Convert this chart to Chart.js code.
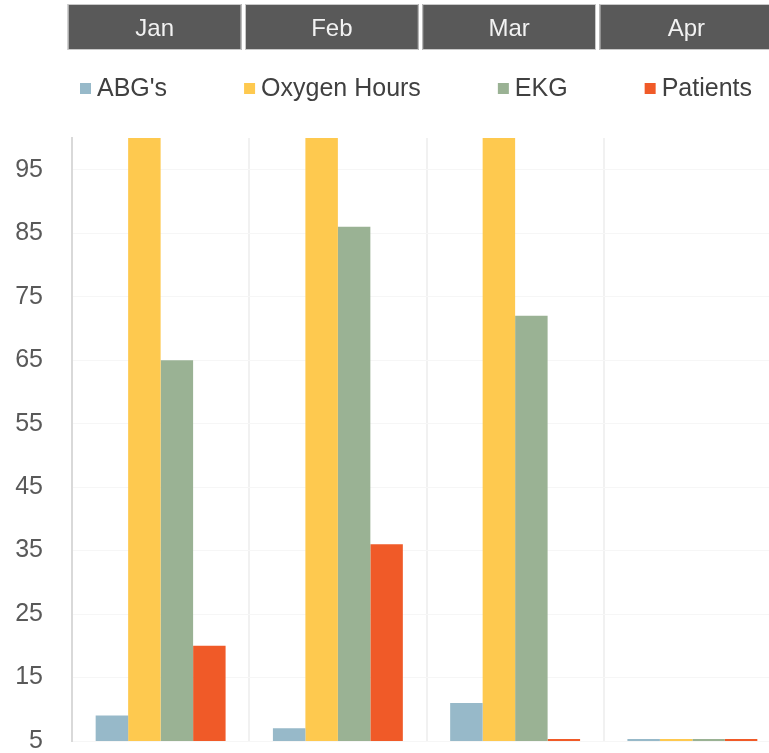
<!DOCTYPE html>
<html><head><meta charset="utf-8">
<script src="https://cdn.jsdelivr.net/npm/chart.js@4.4.1/dist/chart.umd.min.js"></script>
<style>html,body{margin:0;padding:0;overflow:hidden;background:#fff}canvas{display:block}</style>
</head><body>
<canvas id="c" width="781" height="753"></canvas>
<script>
// ---- data ----
const months = ['Jan', 'Feb', 'Mar', 'Apr'];
const seriesNames = ["ABG's", 'Oxygen Hours', 'EKG', 'Patients'];
const abgValues = [9, 7, 11, 0];
const oxygenHoursValues = [180, 165, 172, 0]; // tops run off the chart above 100 (estimates)
const ekgValues = [65, 86, 72, 0];
const patientValues = [20, 36, 0, 0];
const yTickValues = [5, 15, 25, 35, 45, 55, 65, 75, 85, 95];
const yMin = 5, yMax = 100;
const seriesColors = ['#97B9C9', '#FEC94F', '#9AB294', '#F05A28'];

const FONT = '"Liberation Sans", Arial, sans-serif';

const overlayPlugin = {
  id: 'overlay',
  afterDraw(chart) {
    const ctx = chart.ctx;
    const xs = chart.scales.x;
    const n = chart.data.labels.length;
    const catW = xs.width / n;
    ctx.save();
    // month header boxes
    chart.data.labels.forEach((lab, i) => {
      const cx = xs.getPixelForValue(i) - 6;
      const w = catW - 3.5;
      const left = cx - w / 2;
      ctx.fillStyle = '#595959';
      ctx.fillRect(left, 4, w, 46);
      ctx.strokeStyle = '#c9c9c9';
      ctx.lineWidth = 1;
      ctx.strokeRect(left + 0.5, 4.5, w - 1, 45);
      ctx.fillStyle = '#f2f2f2';
      ctx.font = '24px ' + FONT;
      ctx.textAlign = 'center';
      ctx.textBaseline = 'middle';
      ctx.fillText(lab, cx, 29);
    });
    // legend
    ctx.font = '25px ' + FONT;
    ctx.textAlign = 'left';
    ctx.textBaseline = 'middle';
    let x = chart.chartArea.left + 8;
    chart.data.datasets.forEach(ds => {
      ctx.fillStyle = ds.backgroundColor;
      ctx.fillRect(x, 83, 11, 11);
      ctx.fillStyle = '#404040';
      ctx.fillText(ds.label, x + 17, 89);
      x += 17 + ctx.measureText(ds.label).width + 77;
    });
    ctx.restore();
  }
};

const valueSets = [abgValues, oxygenHoursValues, ekgValues, patientValues];

new Chart(document.getElementById('c'), {
  type: 'bar',
  data: {
    labels: months,
    datasets: seriesNames.map((name, i) => ({
      label: name,
      data: valueSets[i],
      backgroundColor: seriesColors[i],
      borderWidth: 0,
      barPercentage: 1,
      categoryPercentage: 0.733,
      minBarLength: 2,
      clip: 0
    }))
  },
  options: {
    responsive: false,
    animation: false,
    devicePixelRatio: 1,
    layout: { padding: { top: 138, bottom: 12, left: 15, right: 0 } },
    plugins: { legend: { display: false }, tooltip: { enabled: false }, title: { display: false } },
    scales: {
      x: {
        display: true,
        grid: { color: '#f1f1f1', lineWidth: 2, drawTicks: false, offset: true },
        border: { display: false },
        ticks: { display: false },
        afterFit(s) { s.height = 0; s.paddingLeft = 0; s.paddingRight = 0; }
      },
      y: {
        min: yMin,
        max: yMax,
        afterBuildTicks(s) { s.ticks = yTickValues.map(v => ({ value: v })); },
        grid: { color: '#f6f6f6', lineWidth: 1, drawTicks: false },
        border: { display: true, color: '#d9d9d9', width: 2 },
        ticks: {
          color: '#595959',
          padding: 29,
          font: { family: FONT, size: 25, lineHeight: 1 }
        },
        afterFit(s) { s.width = 57; s.paddingTop = 0; s.paddingBottom = 0; }
      }
    }
  },
  plugins: [overlayPlugin]
});
</script>
</body></html>
